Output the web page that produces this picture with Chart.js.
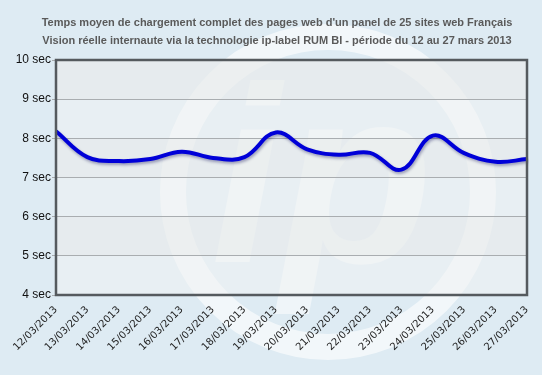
<!DOCTYPE html>
<html>
<head>
<meta charset="utf-8">
<script src="https://cdn.jsdelivr.net/npm/chart.js@4.4.1/dist/chart.umd.min.js"></script>
<style>
  html, body { margin: 0; padding: 0; background: #deebf3; }
  #wrap { width: 542px; height: 375px; }
</style>
</head>
<body>
<div id="wrap"><canvas id="chart" width="542" height="375"></canvas></div>
<script>
const dates = ['12/03/2013', '13/03/2013', '14/03/2013', '15/03/2013', '16/03/2013', '17/03/2013',
    '18/03/2013', '19/03/2013', '20/03/2013', '21/03/2013', '22/03/2013', '23/03/2013',
    '24/03/2013', '25/03/2013', '26/03/2013', '27/03/2013'];
const loadTimes = [8.18, 7.52, 7.42, 7.47, 7.66, 7.5, 7.52, 8.15, 7.72, 7.58, 7.63, 7.2, 8.07, 7.62, 7.4, 7.47];
const titleLines = [
    "Temps moyen de chargement complet des pages web d'un panel de 25 sites web Français",
    "Vision réelle internaute via la technologie ip-label RUM BI - période du 12 au 27 mars 2013"
];
const yMin = 4;
const yMax = 10;

// background + watermark logo + plot area + title
const backdrop = {
    id: 'backdrop',
    beforeDraw(chart) {
        const ctx = chart.ctx;
        const a = chart.chartArea;
        ctx.save();
        ctx.fillStyle = '#deebf3';
        ctx.fillRect(0, 0, chart.width, chart.height);

        ctx.strokeStyle = 'rgba(255,255,255,0.6)';
        ctx.lineWidth = 26;
        ctx.beginPath();
        ctx.arc(328, 192, 155, 0, Math.PI * 2);
        ctx.stroke();

        ctx.fillStyle = 'rgba(255,255,255,0.5)';
        ctx.font = 'italic bold 250px "Liberation Sans"';
        ctx.textAlign = 'center';
        ctx.textBaseline = 'alphabetic';
        ctx.fillText('ip', 322, 262);

        ctx.fillStyle = 'rgba(240,242,243,0.55)';
        ctx.fillRect(a.left, a.top, a.right - a.left, a.bottom - a.top);
        // alternate bands
        const y = chart.scales.y;
        ctx.fillStyle = 'rgba(225,228,230,0.35)';
        for (let v = yMax; v > yMin; v -= 2) {
            const top = y.getPixelForValue(v);
            const bot = y.getPixelForValue(v - 1);
            ctx.fillRect(a.left, top, a.right - a.left, bot - top);
        }

        // title
        ctx.fillStyle = '#5a5a5a';
        ctx.font = 'bold 11px "Liberation Sans", Arial';
        ctx.textBaseline = 'middle';
        titleLines.forEach((line, i) => ctx.fillText(line, 277, 23 + i * 18));
        ctx.restore();
    },
    beforeDatasetDraw(chart) {
        const ctx = chart.ctx;
        ctx.save();
        ctx.shadowColor = 'rgba(0,0,80,0.35)';
        ctx.shadowBlur = 3;
        ctx.shadowOffsetX = 1;
        ctx.shadowOffsetY = 2;
    },
    afterDatasetDraw(chart) {
        chart.ctx.restore();
    },
    afterDraw(chart) {
        const ctx = chart.ctx;
        const a = chart.chartArea;
        ctx.save();
        ctx.strokeStyle = '#555a5e';
        ctx.lineWidth = 2.5;
        ctx.strokeRect(a.left, a.top, a.right - a.left, a.bottom - a.top);
        ctx.restore();
    }
};

new Chart(document.getElementById('chart'), {
    type: 'line',
    data: {
        labels: dates,
        datasets: [{
            data: loadTimes,
            borderColor: '#0000d8',
            borderWidth: 4,
            pointRadius: 0,
            tension: 0.4,
            fill: false
        }]
    },
    plugins: [backdrop],
    options: {
        responsive: false,
        animation: false,
        layout: { padding: { left: 0, right: 15, top: 60, bottom: 0 } },
        plugins: {
            legend: { display: false },
            tooltip: { enabled: false },
            title: { display: false }
        },
        scales: {
            x: {
                grid: { display: false },
                border: { display: false },
                ticks: {
                    color: '#222',
                    font: { family: '"DejaVu Sans"', size: 10 },
                    minRotation: 45,
                    maxRotation: 45,
                    autoSkip: false,
                    padding: 1
                },
                afterFit(scale) { scale.height = 80; }
            },
            y: {
                min: yMin,
                max: yMax,
                grid: { color: '#a9adb0', lineWidth: 1, tickLength: 4 },
                border: { display: false },
                ticks: {
                    stepSize: 1,
                    color: '#111',
                    padding: 1,
                    font: { family: '"Liberation Sans", Arial', size: 12 },
                    callback: v => v + ' sec'
                },
                afterFit(scale) { scale.width = 56; }
            }
        }
    }
});
</script>
</body>
</html>
